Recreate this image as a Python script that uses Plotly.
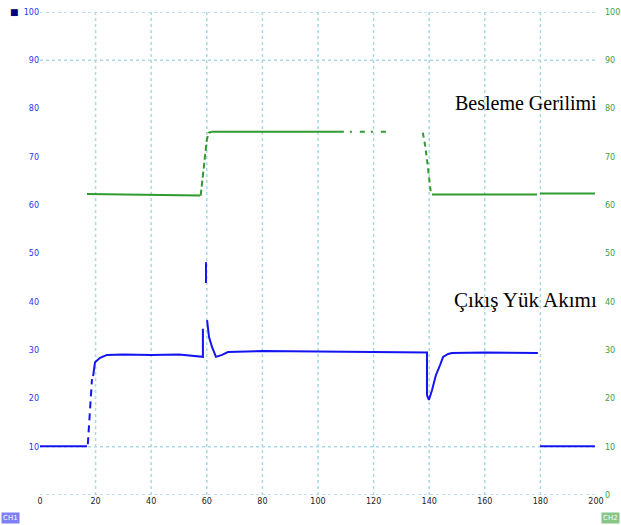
import plotly.graph_objects as go

# ---- axis ticks ----
x_ticks = [0, 20, 40, 60, 80, 100, 120, 140, 160, 180, 200]
left_ticks = [10, 20, 30, 40, 50, 60, 70, 80, 90, 100]
right_ticks = [0, 10, 20, 30, 40, 50, 60, 70, 80, 90, 100]
h_grid = [0, 10, 90, 100]

# ---- Besleme Gerilimi (green) ----
v_flat1_x = [16.9, 57.6]
v_flat1_y = [62.3, 62.0]
v_rise_x = [57.8, 58.5, 59.3, 60.0, 60.6, 61.8]
v_rise_y = [62.0, 66.0, 70.0, 73.5, 75.0, 75.2]
v_top_x = [61.8, 107.5]
v_top_y = [75.2, 75.2]
v_topdash_x = [107.5, 126.0]
v_topdash_y = [75.2, 75.2]
v_drop_x = [137.7, 138.5, 139.3, 140.0, 140.6]
v_drop_y = [75.0, 72.5, 69.0, 65.5, 62.5]
v_flat2_x = [141.0, 178.8, None, 179.9, 199.6]
v_flat2_y = [62.2, 62.2, None, 62.4, 62.4]

# ---- Çıkış Yük Akımı (blue) ----
i_base_x = [0, 16.9]
i_base_y = [10.1, 10.1]
i_step_x = [17.2, 17.6, 18.2, 18.7]
i_step_y = [10.5, 14.5, 19.5, 24.0]
i_main_x = [19.1, 19.8, 21.6, 24.1, 30, 40, 50, 57.6, 58.6, 58.6, None,
            59.7, 59.7, None, 60.1, 60.8, 61.9, 63.3, 65.5, 67.6, 80, 100,
            120, 139.2, 139.2, 139.9, 141.0, 142.4, 143.9, 145.0, 146.8,
            148.2, 160, 179.1]
i_main_y = [24.6, 27.5, 28.4, 29.0, 29.1, 29.0, 29.1, 28.6, 28.6, 34.4, None,
            48.2, 43.9, None, 36.2, 32.7, 30.6, 28.6, 29.0, 29.6, 29.8, 29.7,
            29.7, 29.5, 20.7, 19.7, 21.7, 24.8, 26.9, 28.6, 29.2,
            29.4, 29.5, 29.4]
i_end_x = [179.9, 199.6]
i_end_y = [10.1, 10.1]

GREEN = "#2f9a2f"
BLUE = "#1414f0"
GRID = "#a9d9e6"

fig = go.Figure()

def add(x, y, color, dash="solid", width=2):
    fig.add_trace(go.Scatter(x=x, y=y, mode="lines", showlegend=False,
                             hoverinfo="skip",
                             line=dict(color=color, width=width, dash=dash)))

add(v_flat1_x, v_flat1_y, GREEN)
add(v_rise_x, v_rise_y, GREEN, dash="6px,3px")
add(v_top_x, v_top_y, GREEN)
add(v_topdash_x, v_topdash_y, GREEN, dash="5px,6px,2px,8px")
add(v_drop_x, v_drop_y, GREEN, dash="5px,4px")
add(v_flat2_x, v_flat2_y, GREEN)

add(i_base_x, i_base_y, BLUE)
add(i_step_x, i_step_y, BLUE, dash="7px,5px")
add(i_main_x, i_main_y, BLUE)
add(i_end_x, i_end_y, BLUE)

# dummy trace for right axis
fig.add_trace(go.Scatter(x=[None], y=[None], yaxis="y2", showlegend=False))

# gridlines
shapes = []
for xv in x_ticks[1:-1]:
    shapes.append(dict(type="line", xref="x", yref="y", x0=xv, x1=xv, y0=0, y1=100,
                       line=dict(color=GRID, width=1.5, dash="dot"), layer="below"))
for yv in h_grid:
    shapes.append(dict(type="line", xref="x", yref="y", x0=0, x1=200, y0=yv, y1=yv,
                       line=dict(color=GRID, width=1.5, dash="dot"), layer="below"))

fig.update_layout(
    width=621, height=525,
    margin=dict(l=40, r=25, t=12, b=30, autoexpand=False),
    paper_bgcolor="white", plot_bgcolor="white",
    shapes=shapes,
    xaxis=dict(range=[0, 200], tickvals=x_ticks, ticktext=[str(v) for v in x_ticks],
               showgrid=False, zeroline=False, showline=False, ticks="", automargin=False,
               tickfont=dict(family="DejaVu Sans", size=8, color="#222222")),
    yaxis=dict(range=[0, 100], tickvals=left_ticks, ticktext=[str(v) for v in left_ticks],
               showgrid=False, zeroline=False, showline=False, ticks="", automargin=False,
               tickfont=dict(family="DejaVu Sans", size=8, color="#3030ff")),
    yaxis2=dict(range=[0, 100], overlaying="y", side="right", automargin=False,
                tickvals=right_ticks, ticktext=[str(v) for v in right_ticks],
                showgrid=False, zeroline=False, showline=False, ticks="",
                ticklabelstandoff=8,
                tickfont=dict(family="DejaVu Sans", size=8, color="#40a040")),
    annotations=[
        dict(x=200, y=81.1, xref="x", yref="y", text="Besleme Gerilimi",
             showarrow=False, xanchor="right", yanchor="middle", xshift=3,
             font=dict(family="Liberation Serif", size=20, color="black")),
        dict(x=200, y=40.4, xref="x", yref="y", text="Çıkış Yük Akımı",
             showarrow=False, xanchor="right", yanchor="middle", xshift=3,
             font=dict(family="Liberation Serif", size=21, color="black")),
        dict(x=0, y=0, xref="paper", yref="paper", text="CH1", showarrow=False,
             xanchor="left", yanchor="bottom", xshift=-39, yshift=-29,
             bgcolor="#7f7ff5", borderpad=1,
             font=dict(family="DejaVu Sans", size=7, color="white")),
        dict(x=1, y=0, xref="paper", yref="paper", text="CH2", showarrow=False,
             xanchor="right", yanchor="bottom", xshift=24, yshift=-29,
             bgcolor="#86c686", borderpad=1,
             font=dict(family="DejaVu Sans", size=7, color="white")),
        dict(x=0, y=1, xref="paper", yref="paper", text="■", showarrow=False,
             xanchor="left", yanchor="middle", xshift=-32,
             font=dict(family="DejaVu Sans", size=9, color="#000080")),
    ],
)

fig.write_html(
    "out.html",
    config={"displayModeBar": False},
    post_script="document.body.style.margin='0';document.body.style.overflow='hidden';",
)
